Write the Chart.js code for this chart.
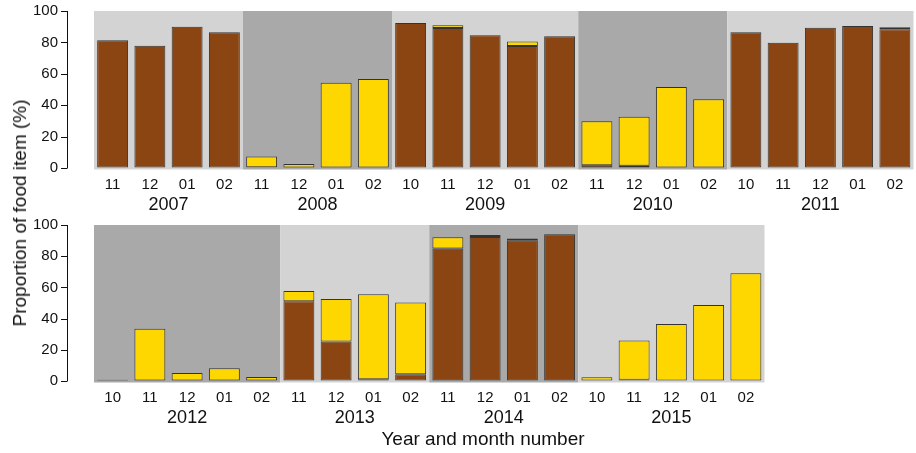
<!DOCTYPE html>
<html>
<head>
<meta charset="utf-8">
<script src="https://cdn.jsdelivr.net/npm/chart.js@4.4.1/dist/chart.umd.min.js"></script>
<style>
  html, body { margin: 0; padding: 0; background: #fff; }
  #wrap { position: relative; width: 916px; height: 453px; overflow: hidden; font-family: "Liberation Sans", Arial, sans-serif; }
  canvas { position: absolute; left: 0; }
  #cTop { top: 0; }
  #cBottom { top: 215px; }
  .axis-title { position: absolute; font-size: 19px; color: #111; white-space: nowrap; }
  #yTitle { left: 20px; top: 213px; transform: translate(-50%, -50%) rotate(-90deg); }
  #xTitle { left: 483px; top: 439px; transform: translate(-50%, -50%); }
</style>
</head>
<body>
<div id="wrap">
  <canvas id="cTop" width="916" height="215"></canvas>
  <canvas id="cBottom" width="916" height="238"></canvas>
  <div class="axis-title" id="yTitle">Proportion of food item (%)</div>
  <div class="axis-title" id="xTitle">Year and month number</div>
</div>
<script>
// ---- datos ----
const topMonths   = ['11','12','01','02','11','12','01','02','10','11','12','01','02','11','12','01','02','10','11','12','01','02'];
const topYears    = ['2007','2008','2009','2010','2011'];
const topCounts   = [4, 4, 5, 4, 5];
const topBrown    = [81.3, 77.9, 90.0, 86.4, 0.5, 0, 0, 0, 92.4, 89.2, 84.5, 77.7, 83.9, 1.7, 1.5, 0.3, 0.3, 86.4, 79.8, 89.4, 90.4, 88.3];
const topYellow   = [0, 0, 0, 0, 6.9, 2.5, 54.3, 56.7, 0, 1.7, 0, 2.8, 0, 28.0, 31.2, 51.3, 43.5, 0, 0, 0, 0, 1.3];

const botMonths   = ['10','11','12','01','02','11','12','01','02','11','12','01','02','10','11','12','01','02'];
const botYears    = ['2012','2013','2014','2015'];
const botCounts   = [5, 4, 4, 5];
const botBrown    = [0.8, 0, 0, 0, 0, 51.1, 25.4, 1.1, 4.3, 85.0, 92.3, 90.2, 94.0, 0.4, 0.8, 0, 0, 0];
const botGreen    = [0, 0, 0, 0, 0, 0, 0, 0, 0, 0, 1.3, 1.2, 0, 0, 0, 0, 0, 0];
const botYellow   = [0, 33.5, 5.1, 8.1, 2.6, 6.6, 27.2, 54.5, 46.1, 7.1, 0, 0, 0, 2.0, 25.1, 36.5, 48.7, 69.0];

const yTicks = [0, 20, 40, 60, 80, 100];

// ---- estilos ----
const COL = {
  brown:  '#8B4513',
  green:  '#6B6A12',
  yellow: '#FFD700',
  border: '#333333',
  light:  '#D3D3D3',
  dark:   '#A9A9A9',
  text:   '#111111',
};
const FONT = '"Liberation Sans", Arial, sans-serif';

// Fondo por año + etiquetas de año + eje Y desplazado (estilo R)
const panelDecor = {
  id: 'panelDecor',
  beforeDatasetsDraw(chart, args, opts) {
    const { ctx, chartArea } = chart;
    const x = chart.scales.x;
    const half = (x.getPixelForValue(1) - x.getPixelForValue(0)) / 2;
    let start = 0;
    ctx.save();
    opts.counts.forEach((n, g) => {
      const l = x.getPixelForValue(start) - half;
      const r = x.getPixelForValue(start + n - 1) + half;
      const dark = (g % 2 === 0) === opts.firstDark;
      ctx.fillStyle = dark ? COL.dark : COL.light;
      ctx.fillRect(l, chartArea.top, r - l, chartArea.bottom - chartArea.top + 1.5);
      start += n;
    });
    ctx.restore();
  },
  afterDraw(chart, args, opts) {
    const { ctx, chartArea } = chart;
    const x = chart.scales.x;
    const y = chart.scales.y;
    ctx.save();
    // años centrados bajo su grupo
    ctx.fillStyle = COL.text;
    ctx.font = '18px ' + FONT;
    ctx.textAlign = 'center';
    ctx.textBaseline = 'middle';
    let start = 0;
    opts.counts.forEach((n, g) => {
      const cx = (x.getPixelForValue(start) + x.getPixelForValue(start + n - 1)) / 2;
      ctx.fillText(opts.years[g], cx, chartArea.bottom + 37);
      start += n;
    });
    // eje Y separado del área
    const ax = chartArea.left - 27;
    ctx.strokeStyle = COL.text;
    ctx.lineWidth = 1;
    ctx.beginPath();
    ctx.moveTo(ax + 0.5, y.getPixelForValue(0));
    ctx.lineTo(ax + 0.5, y.getPixelForValue(100));
    yTicks.forEach(v => {
      const py = Math.round(y.getPixelForValue(v)) + 0.5;
      ctx.moveTo(ax + 0.5, py);
      ctx.lineTo(ax - 6, py);
    });
    ctx.stroke();
    ctx.restore();
  }
};

function makePanel(id, months, datasets, years, counts, firstDark, padRight, padTop, xHeight) {
  return new Chart(document.getElementById(id), {
    type: 'bar',
    data: {
      labels: months,
      datasets: datasets.map(d => ({
        data: d.data,
        backgroundColor: d.color,
        borderColor: COL.border,
        borderWidth: 1,
        borderSkipped: false,
        categoryPercentage: 1,
        barPercentage: 0.83,
      })),
    },
    options: {
      responsive: false,
      animation: false,
      devicePixelRatio: 1,
      layout: { autoPadding: false, padding: { left: 0, right: padRight, top: padTop, bottom: 0 } },
      plugins: {
        legend:  { display: false },
        tooltip: { enabled: false },
        panelDecor: { years, counts, firstDark },
      },
      scales: {
        x: {
          stacked: true,
          grid:   { display: false, drawTicks: false },
          border: { display: false },
          ticks:  { color: COL.text, font: { family: FONT, size: 15 }, padding: 8, maxRotation: 0, autoSkip: false },
          afterFit(s) { s.height = xHeight; },
        },
        y: {
          stacked: true,
          min: 0,
          max: 100,
          grid:   { drawOnChartArea: false, drawTicks: true, tickLength: 36, color: 'rgba(0,0,0,0)' },
          border: { display: false },
          ticks:  { stepSize: 20, color: COL.text, font: { family: FONT, size: 15 }, padding: 0 },
          afterFit(s) { s.width = 94; },
        },
      },
    },
    plugins: [panelDecor],
  });
}

makePanel('cTop', topMonths, [
  { data: topBrown,  color: COL.brown },
  { data: topYellow, color: COL.yellow },
], topYears, topCounts, false, 2.5, 11, 47);

makePanel('cBottom', botMonths, [
  { data: botBrown,  color: COL.brown },
  { data: botGreen,  color: COL.green },
  { data: botYellow, color: COL.yellow },
], botYears, botCounts, true, 151.5, 10, 72);
</script>
</body>
</html>
